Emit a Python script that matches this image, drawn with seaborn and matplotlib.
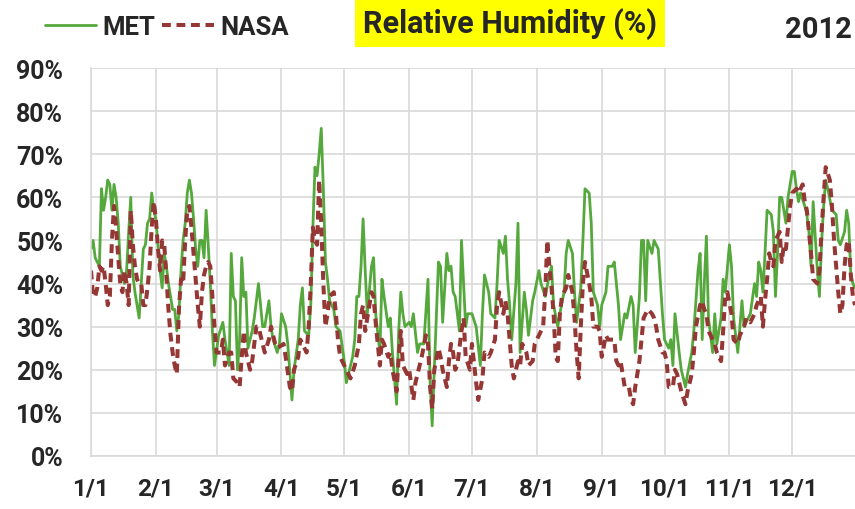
import matplotlib.pyplot as plt
import pandas as pd
import seaborn as sns
from matplotlib.ticker import FuncFormatter

# day of year (0 = Jan 1, 2012) and relative humidity in %
met_day = [0, 1, 2, 3, 4, 5, 6, 7, 8, 9, 10, 11, 12, 13, 14, 15, 16, 17, 18, 19,
           20, 21, 22, 23, 24, 25, 26, 27, 28, 29, 30, 31, 32, 33, 34, 35, 36, 37, 38, 39,
           40, 41, 42, 43, 44, 45, 46, 47, 48, 49, 50, 51, 52, 53, 54, 55, 56, 57, 58, 59,
           61, 63, 64, 66, 67, 68, 69, 70, 71, 72, 73, 74, 75, 77, 78, 80, 82, 83, 85, 86,
           87, 89, 90, 91, 93, 94, 96, 97, 99, 100, 101, 102, 104, 105, 106, 107, 108, 109, 110, 111,
           112, 113, 114, 116, 117, 119, 121, 122, 125, 126, 127, 128, 129, 130, 131, 132, 134, 135, 136, 138,
           139, 140, 142, 143, 144, 146, 147, 148, 149, 150, 152, 153, 154, 156, 157, 159, 161, 162, 163, 164,
           166, 167, 168, 170, 171, 172, 173, 174, 176, 177, 179, 180, 182, 184, 186, 187, 188, 190, 191, 193,
           194, 195, 197, 198, 199, 200, 201, 203, 204, 205, 207, 208, 209, 211, 212, 214, 215, 217, 219, 220,
           221, 223, 224, 226, 227, 228, 230, 231, 232, 234, 235, 236, 238, 239, 240, 242, 243, 244, 246, 247,
           249, 250, 252, 253, 255, 256, 258, 259, 260, 262, 263, 264, 265, 266, 268, 269, 270, 271, 273, 274,
           276, 277, 278, 279, 281, 282, 284, 285, 287, 288, 290, 291, 292, 293, 294, 295, 297, 298, 299, 301,
           302, 303, 305, 306, 307, 309, 310, 311, 312, 314, 315, 317, 318, 319, 320, 321, 322, 323, 325, 326,
           327, 328, 329, 330, 331, 332, 333, 335, 336, 337, 338, 339, 341, 342, 343, 344, 345, 347, 348, 349,
           350, 351, 352, 354, 356, 357, 358, 360, 361, 362, 363, 364, 365]
met_rh = [48, 50, 46, 45, 44, 62, 57, 60, 64, 63, 57, 63, 60, 54, 44, 42, 40, 43, 52, 60,
          42, 38, 35, 32, 40, 48, 49, 54, 55, 61, 57, 55, 49, 43, 39, 47, 44, 40, 37, 34,
          34, 29, 33, 43, 50, 54, 61, 64, 61, 55, 48, 44, 50, 50, 46, 57, 49, 40, 29, 21,
          28, 31, 27, 21, 47, 37, 36, 20, 27, 46, 37, 38, 25, 29, 32, 40, 30, 30, 36, 30,
          27, 24, 26, 33, 30, 26, 13, 20, 27, 35, 39, 29, 28, 35, 53, 67, 65, 70, 76, 62,
          45, 41, 36, 34, 30, 29, 22, 17, 23, 27, 37, 37, 44, 55, 43, 33, 44, 46, 33, 24,
          41, 37, 30, 32, 24, 12, 29, 38, 33, 30, 31, 30, 33, 24, 26, 26, 41, 17, 7, 20,
          45, 44, 31, 47, 43, 44, 38, 37, 29, 50, 30, 33, 33, 30, 21, 33, 42, 38, 33, 32,
          40, 50, 47, 51, 41, 35, 27, 40, 54, 24, 38, 34, 28, 36, 38, 43, 40, 37, 42, 44,
          35, 30, 33, 38, 47, 50, 47, 38, 31, 39, 50, 62, 61, 54, 38, 35, 30, 35, 38, 44,
          44, 45, 35, 27, 33, 32, 37, 35, 24, 37, 50, 50, 36, 50, 47, 50, 49, 48, 33, 27,
          25, 27, 21, 33, 24, 20, 16, 19, 24, 29, 43, 47, 27, 40, 51, 32, 24, 33, 26, 32,
          41, 38, 49, 44, 32, 24, 30, 36, 30, 32, 33, 40, 37, 45, 43, 38, 47, 57, 56, 52,
          37, 47, 60, 60, 57, 54, 60, 66, 66, 62, 59, 61, 58, 56, 52, 44, 59, 43, 37, 49,
          58, 64, 62, 57, 56, 50, 49, 52, 57, 54, 42, 40, 39]

nasa_day = [0, 1, 2, 3, 4, 5, 6, 7, 8, 9, 10, 11, 12, 13, 14, 15, 16, 17, 18, 19,
            20, 21, 22, 23, 24, 25, 26, 27, 28, 29, 30, 31, 32, 33, 34, 35, 36, 37, 38, 39,
            40, 41, 42, 43, 44, 45, 46, 47, 48, 49, 50, 51, 52, 53, 54, 55, 56, 57, 58, 59,
            60, 62, 63, 64, 66, 67, 68, 70, 71, 72, 73, 74, 76, 77, 79, 80, 82, 83, 85, 86,
            88, 89, 92, 93, 95, 96, 97, 99, 100, 101, 103, 104, 105, 106, 107, 108, 109, 110, 111, 112,
            113, 114, 116, 117, 118, 119, 121, 122, 124, 126, 128, 129, 130, 131, 132, 134, 135, 136, 138, 139,
            140, 142, 143, 144, 146, 147, 148, 149, 151, 152, 154, 155, 157, 158, 160, 161, 162, 163, 164, 166,
            167, 168, 170, 171, 172, 173, 174, 175, 177, 178, 179, 181, 182, 184, 185, 187, 188, 190, 191, 193,
            194, 195, 197, 198, 199, 200, 201, 202, 204, 205, 206, 208, 209, 211, 212, 214, 216, 217, 218, 219,
            220, 221, 222, 223, 224, 225, 227, 228, 230, 231, 232, 233, 234, 235, 236, 238, 239, 240, 242, 243,
            244, 246, 247, 248, 250, 251, 252, 253, 255, 257, 258, 259, 260, 262, 263, 264, 265, 266, 268, 269,
            270, 271, 273, 274, 275, 276, 278, 279, 280, 282, 284, 285, 287, 288, 289, 291, 292, 293, 294, 295,
            297, 298, 299, 301, 302, 303, 304, 306, 307, 309, 310, 312, 313, 315, 317, 318, 320, 321, 322, 323,
            324, 325, 326, 327, 329, 330, 331, 332, 333, 334, 335, 337, 338, 340, 341, 342, 343, 344, 345, 347,
            348, 349, 350, 351, 353, 354, 355, 356, 357, 358, 359, 360, 361, 362, 363, 364, 365]
nasa_rh = [43, 37, 37, 39, 44, 43, 44, 40, 35, 37, 50, 58, 53, 46, 40, 38, 43, 40, 35, 57,
           49, 44, 41, 40, 40, 35, 35, 39, 44, 53, 59, 55, 48, 43, 50, 49, 42, 34, 28, 24,
           21, 19, 34, 41, 40, 50, 57, 58, 53, 47, 41, 35, 30, 38, 42, 44, 45, 44, 37, 30,
           24, 24, 27, 21, 24, 24, 18, 17, 16, 23, 29, 24, 20, 22, 30, 30, 26, 24, 27, 30,
           26, 25, 26, 23, 16, 15, 20, 23, 27, 26, 24, 30, 40, 53, 50, 49, 64, 54, 40, 30,
           33, 37, 38, 33, 27, 23, 21, 20, 18, 21, 26, 33, 35, 29, 32, 38, 37, 31, 21, 27,
           26, 23, 24, 20, 15, 23, 29, 21, 19, 20, 13, 17, 21, 23, 28, 26, 16, 11, 20, 25,
           23, 20, 16, 22, 26, 24, 20, 21, 29, 32, 23, 20, 26, 17, 13, 18, 24, 23, 24, 27,
           35, 38, 33, 36, 33, 27, 21, 18, 22, 21, 26, 24, 21, 22, 26, 28, 30, 38, 50, 44,
           39, 33, 23, 22, 33, 37, 39, 42, 38, 32, 24, 18, 30, 40, 45, 40, 37, 30, 30, 29,
           23, 28, 27, 27, 27, 22, 21, 22, 16, 16, 13, 12, 16, 22, 27, 32, 33, 34, 33, 32,
           30, 27, 24, 24, 22, 16, 16, 20, 19, 15, 12, 15, 19, 24, 30, 35, 36, 34, 33, 29,
           27, 26, 24, 22, 29, 37, 38, 33, 27, 26, 28, 30, 32, 31, 33, 35, 37, 30, 36, 41,
           47, 45, 44, 50, 52, 45, 49, 48, 53, 58, 61, 62, 61, 63, 59, 57, 52, 47, 41, 40,
           43, 52, 60, 67, 64, 58, 50, 44, 38, 33, 35, 44, 49, 50, 42, 37, 35]

month_labels = ["1/1", "2/1", "3/1", "4/1", "5/1", "6/1",
                "7/1", "8/1", "9/1", "10/1", "11/1", "12/1"]
y_ticks = [0, 10, 20, 30, 40, 50, 60, 70, 80, 90]

GREEN = "#55A83C"
RED = "#953735"
GRID = "#D9D9D9"

start = pd.Timestamp("2012-01-01")
met = pd.DataFrame({"date": start + pd.to_timedelta(met_day, unit="D"), "rh": met_rh})
nasa = pd.DataFrame({"date": start + pd.to_timedelta(nasa_day, unit="D"), "rh": nasa_rh})

sns.set_theme(style="white")
plt.rcParams["font.family"] = ["Roboto", "DejaVu Sans"]
plt.rcParams["font.weight"] = "bold"

fig = plt.figure(figsize=(8.55, 5.10), dpi=100)
ax = fig.add_axes([91 / 855, 53 / 510, 1 - 91 / 855, 388 / 510])

sns.lineplot(data=met, x="date", y="rh", ax=ax, color=GREEN, lw=2.0,
             estimator=None, label="MET")
sns.lineplot(data=nasa, x="date", y="rh", ax=ax, color=RED, lw=2.9,
             estimator=None, label="NASA", linestyle=(0, (2.2, 1.4)))

ax.set_xlim(start, pd.Timestamp("2012-12-31"))
ax.set_ylim(0, 90)
ax.set_yticks(y_ticks)
ax.yaxis.set_major_formatter(FuncFormatter(lambda v, _: f"{v:.0f}%"))
ax.set_xticks(pd.date_range(start, periods=12, freq="MS"))
ax.set_xticklabels(month_labels)
ax.set(xlabel="", ylabel="")

ax.grid(True, color=GRID, lw=1.2)
ax.set_axisbelow(True)
for side in ["top", "right"]:
    ax.spines[side].set_visible(False)
for side in ["left", "bottom"]:
    ax.spines[side].set_color(GRID)
    ax.spines[side].set_linewidth(1.2)
ax.tick_params(axis="both", which="major", length=6, width=1.2, color=GRID,
               direction="out")
ax.tick_params(axis="x", labelsize=17.5, pad=9)
ax.tick_params(axis="y", labelsize=18, pad=14)
for lab in ax.get_xticklabels() + ax.get_yticklabels():
    lab.set_fontweight("bold")

handles, labels = ax.get_legend_handles_labels()
ax.get_legend().remove()
fig.legend(handles, labels, loc="center left", bbox_to_anchor=(45 / 855, 1 - 28 / 510),
           ncol=2, frameon=False, handlelength=2.0, handletextpad=0.25,
           columnspacing=0.25, borderpad=0, borderaxespad=0,
           prop={"weight": "bold", "size": 18.5})

fig.text(510 / 855, 1 - 24 / 510, "Relative Humidity (%)", ha="center", va="center",
         fontsize=22, fontweight="bold",
         bbox=dict(boxstyle="square,pad=0.26", facecolor="#FFFF00", edgecolor="none"))
fig.text(818 / 855, 1 - 30 / 510, "2012", ha="center", va="center",
         fontsize=21, fontweight="bold")

fig.savefig("out.png", dpi=100)
